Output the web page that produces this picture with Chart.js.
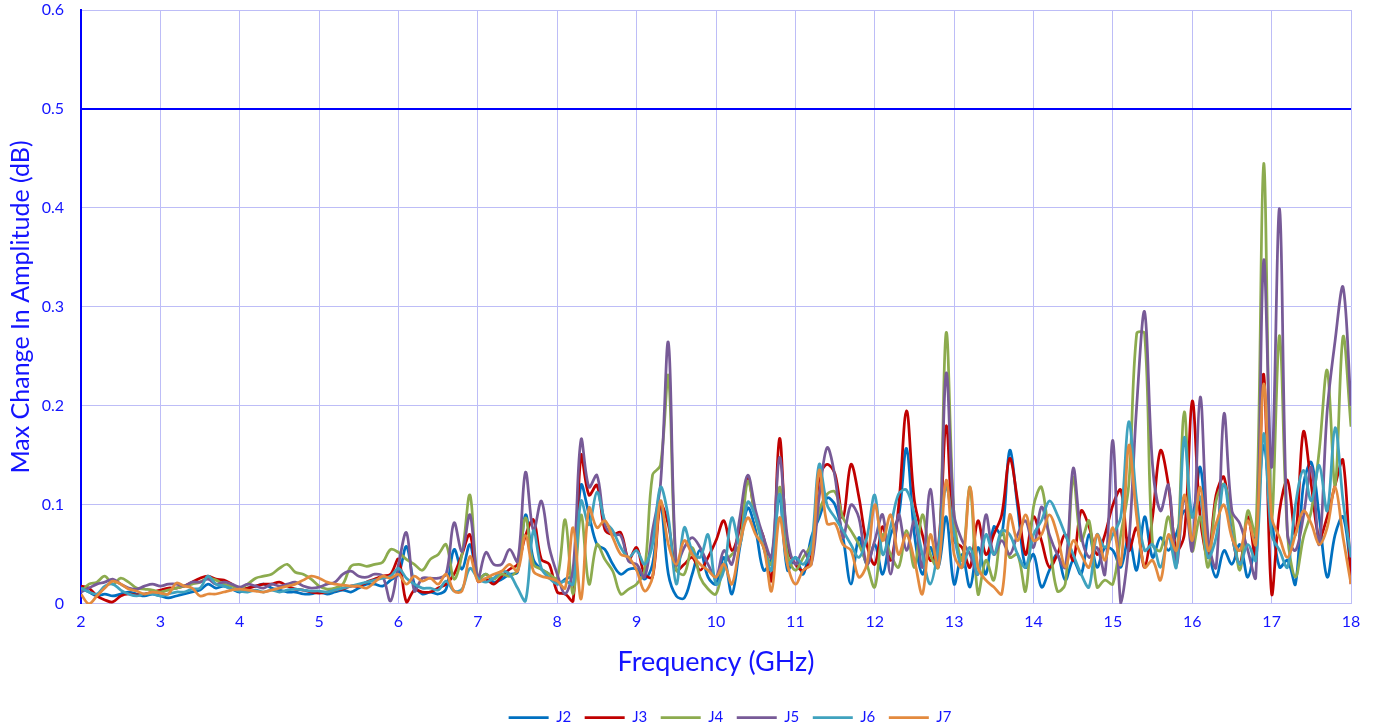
<!DOCTYPE html>
<html>
<head>
<meta charset="utf-8">
<script src="https://cdn.jsdelivr.net/npm/chart.js@4/dist/chart.umd.min.js"></script>
<style>
  body { margin: 0; background: #fff; }
  #wrap { width: 1380px; height: 728px; }
</style>
</head>
<body>
<div id="wrap"><canvas id="line-chart"></canvas></div>
<script>
// frequency grid, GHz (2.0 .. 18.0 step 0.1)
var freq = [];
for (var i = 0; i <= 160; i++) freq.push(+(2 + i / 10).toFixed(1));

var limit = 0.5;
var seriesNames = ["J2", "J3", "J4", "J5", "J6", "J7"];

var j2 = [
  0.016,0.012,0.008,0.01,0.008,0.01,0.012,0.01,0.008,0.01,
  0.008,0.006,0.008,0.01,0.012,0.014,0.02,0.016,0.018,0.015,
  0.012,0.016,0.018,0.02,0.016,0.014,0.012,0.012,0.01,0.01,
  0.012,0.01,0.012,0.014,0.012,0.016,0.02,0.02,0.018,0.024,
  0.03,0.058,0.02,0.01,0.012,0.01,0.015,0.055,0.035,0.06,
  0.025,0.03,0.022,0.025,0.03,0.032,0.09,0.045,0.035,0.03,
  0.02,0.025,0.03,0.12,0.09,0.06,0.055,0.04,0.03,0.035,
  0.035,0.025,0.04,0.1,0.03,0.008,0.006,0.03,0.054,0.027,
  0.02,0.047,0.01,0.057,0.097,0.074,0.034,0.047,0.108,0.034,
  0.047,0.03,0.067,0.087,0.107,0.1,0.067,0.02,0.067,0.04,
  0.06,0.03,0.07,0.088,0.157,0.07,0.03,0.057,0.037,0.088,
  0.02,0.05,0.017,0.057,0.03,0.078,0.07,0.155,0.098,0.037,
  0.05,0.017,0.034,0.05,0.024,0.044,0.03,0.07,0.037,0.057,
  0.054,0.037,0.067,0.034,0.088,0.047,0.067,0.054,0.071,0.094,
  0.088,0.138,0.06,0.027,0.054,0.04,0.06,0.027,0.07,0.16,
  0.088,0.037,0.044,0.02,0.12,0.143,0.088,0.027,0.07,0.088,
  0.034
];
var j3 = [
  0.018,0.016,0.008,0.004,0.002,0.008,0.01,0.009,0.01,0.012,
  0.014,0.016,0.016,0.018,0.022,0.026,0.028,0.025,0.024,0.02,
  0.015,0.016,0.018,0.02,0.02,0.022,0.018,0.015,0.014,0.012,
  0.011,0.012,0.014,0.015,0.018,0.018,0.022,0.025,0.028,0.03,
  0.045,0.002,0.014,0.012,0.012,0.016,0.02,0.03,0.05,0.07,
  0.023,0.025,0.02,0.028,0.035,0.04,0.069,0.085,0.045,0.04,
  0.012,0.01,0.003,0.15,0.11,0.12,0.075,0.07,0.072,0.045,
  0.057,0.03,0.027,0.1,0.08,0.034,0.04,0.047,0.034,0.047,
  0.064,0.084,0.054,0.077,0.128,0.087,0.067,0.024,0.167,0.057,
  0.04,0.034,0.047,0.128,0.141,0.131,0.087,0.141,0.108,0.06,
  0.04,0.078,0.044,0.098,0.195,0.104,0.07,0.044,0.057,0.18,
  0.064,0.057,0.037,0.084,0.05,0.07,0.09,0.147,0.104,0.05,
  0.088,0.064,0.037,0.05,0.07,0.044,0.094,0.078,0.05,0.07,
  0.1,0.115,0.054,0.077,0.037,0.088,0.155,0.12,0.054,0.07,
  0.205,0.088,0.047,0.11,0.128,0.07,0.04,0.088,0.047,0.232,
  0.01,0.094,0.125,0.07,0.174,0.12,0.067,0.088,0.12,0.145,
  0.02
];
var j4 = [
  0.012,0.02,0.022,0.028,0.02,0.026,0.022,0.016,0.015,0.014,
  0.012,0.014,0.016,0.018,0.02,0.022,0.026,0.024,0.02,0.018,
  0.016,0.02,0.026,0.028,0.03,0.036,0.04,0.032,0.03,0.025,
  0.018,0.015,0.016,0.02,0.038,0.04,0.038,0.04,0.042,0.055,
  0.052,0.045,0.04,0.034,0.045,0.05,0.06,0.025,0.05,0.11,
  0.025,0.03,0.025,0.03,0.028,0.035,0.087,0.04,0.035,0.03,
  0.026,0.085,0.01,0.09,0.02,0.06,0.045,0.033,0.01,0.015,
  0.02,0.034,0.13,0.14,0.23,0.035,0.03,0.057,0.027,0.015,
  0.01,0.04,0.05,0.06,0.124,0.087,0.057,0.04,0.118,0.05,
  0.034,0.047,0.06,0.094,0.111,0.113,0.087,0.074,0.06,0.04,
  0.017,0.07,0.05,0.037,0.074,0.037,0.09,0.05,0.037,0.274,
  0.088,0.044,0.118,0.01,0.044,0.024,0.074,0.047,0.05,0.013,
  0.098,0.118,0.064,0.013,0.02,0.128,0.064,0.084,0.017,0.024,
  0.02,0.07,0.12,0.273,0.273,0.06,0.054,0.088,0.047,0.194,
  0.054,0.088,0.037,0.104,0.121,0.088,0.034,0.094,0.07,0.445,
  0.088,0.271,0.07,0.027,0.067,0.094,0.155,0.236,0.12,0.27,
  0.179
];
var j5 = [
  0.012,0.016,0.02,0.022,0.025,0.02,0.016,0.015,0.018,0.02,
  0.018,0.02,0.02,0.018,0.022,0.022,0.025,0.02,0.022,0.02,
  0.017,0.02,0.018,0.016,0.02,0.018,0.02,0.022,0.018,0.016,
  0.017,0.02,0.022,0.03,0.033,0.028,0.027,0.03,0.028,0.003,
  0.04,0.072,0.013,0.026,0.026,0.026,0.03,0.082,0.053,0.09,
  0.026,0.052,0.04,0.04,0.055,0.043,0.133,0.074,0.104,0.057,
  0.03,0.01,0.036,0.166,0.118,0.13,0.08,0.07,0.069,0.043,
  0.04,0.027,0.074,0.12,0.264,0.04,0.057,0.067,0.057,0.04,
  0.027,0.054,0.04,0.087,0.13,0.094,0.067,0.047,0.148,0.067,
  0.04,0.054,0.04,0.108,0.158,0.128,0.067,0.1,0.087,0.04,
  0.064,0.09,0.03,0.09,0.054,0.084,0.037,0.116,0.04,0.233,
  0.09,0.064,0.05,0.03,0.09,0.05,0.064,0.05,0.07,0.084,
  0.057,0.098,0.07,0.05,0.037,0.137,0.07,0.047,0.057,0.03,
  0.165,0.0,0.06,0.2,0.295,0.14,0.094,0.12,0.04,0.108,
  0.054,0.209,0.067,0.037,0.192,0.094,0.081,0.054,0.027,0.347,
  0.138,0.399,0.07,0.054,0.088,0.138,0.06,0.195,0.266,0.32,
  0.2
];
var j6 = [
  0.016,0.012,0.01,0.018,0.02,0.014,0.01,0.008,0.01,0.01,
  0.008,0.01,0.012,0.012,0.015,0.016,0.028,0.02,0.018,0.015,
  0.013,0.012,0.014,0.012,0.014,0.012,0.014,0.015,0.014,0.013,
  0.013,0.012,0.014,0.016,0.018,0.02,0.022,0.024,0.026,0.028,
  0.036,0.026,0.02,0.016,0.016,0.014,0.023,0.013,0.015,0.036,
  0.026,0.022,0.026,0.033,0.03,0.016,0.003,0.074,0.036,0.026,
  0.02,0.023,0.02,0.104,0.08,0.113,0.084,0.074,0.057,0.047,
  0.054,0.04,0.06,0.118,0.087,0.02,0.077,0.054,0.047,0.07,
  0.02,0.034,0.087,0.06,0.103,0.087,0.057,0.034,0.111,0.04,
  0.047,0.04,0.057,0.141,0.1,0.087,0.074,0.06,0.047,0.067,
  0.11,0.05,0.078,0.111,0.115,0.09,0.05,0.02,0.057,0.118,
  0.07,0.037,0.057,0.03,0.07,0.05,0.074,0.07,0.05,0.037,
  0.07,0.084,0.104,0.09,0.07,0.05,0.03,0.017,0.07,0.057,
  0.07,0.088,0.184,0.104,0.054,0.06,0.037,0.067,0.037,0.168,
  0.088,0.108,0.047,0.067,0.121,0.07,0.04,0.06,0.044,0.172,
  0.07,0.054,0.037,0.1,0.135,0.104,0.14,0.094,0.178,0.104,
  0.047
];
var j7 = [
  0.01,0.0,0.008,0.016,0.023,0.02,0.015,0.013,0.01,0.012,
  0.011,0.01,0.021,0.018,0.016,0.008,0.01,0.01,0.012,0.014,
  0.015,0.014,0.013,0.012,0.014,0.016,0.018,0.02,0.024,0.028,
  0.026,0.022,0.02,0.019,0.018,0.018,0.016,0.022,0.028,0.026,
  0.03,0.02,0.028,0.023,0.026,0.02,0.03,0.013,0.013,0.048,
  0.023,0.026,0.03,0.033,0.04,0.033,0.069,0.033,0.028,0.026,
  0.023,0.016,0.077,0.005,0.097,0.077,0.084,0.067,0.05,0.047,
  0.034,0.013,0.027,0.104,0.06,0.04,0.064,0.05,0.04,0.034,
  0.027,0.04,0.02,0.06,0.087,0.07,0.057,0.013,0.087,0.04,
  0.02,0.034,0.04,0.135,0.081,0.081,0.06,0.054,0.027,0.04,
  0.1,0.064,0.09,0.05,0.07,0.044,0.01,0.07,0.037,0.125,
  0.05,0.037,0.118,0.037,0.024,0.017,0.01,0.09,0.064,0.09,
  0.064,0.07,0.09,0.07,0.037,0.064,0.05,0.037,0.07,0.044,
  0.077,0.04,0.16,0.088,0.037,0.044,0.024,0.07,0.054,0.11,
  0.064,0.118,0.054,0.081,0.1,0.067,0.054,0.084,0.06,0.222,
  0.088,0.067,0.047,0.07,0.094,0.081,0.06,0.077,0.118,0.067,
  0.02
];

var seriesValues = [j2, j3, j4, j5, j6, j7];
var seriesColors = ["#0070C0", "#C00000", "#8CAB4E", "#775A97", "#3FA2BE", "#E38A3E"];

var blue = "#1414FF";
var gridColor = "#BDBDF7";
var font = "Lato, 'Open Sans', sans-serif";

function pts(vals) {
  return vals.map(function(v, i) { return { x: freq[i], y: v }; });
}

var datasets = [];
for (var s = 0; s < seriesNames.length; s++) {
  datasets.push({
    label: seriesNames[s],
    data: pts(seriesValues[s]),
    borderColor: seriesColors[s],
    backgroundColor: seriesColors[s],
    borderWidth: 2.75,
    pointRadius: 0,
    tension: 0.35,
    fill: false,
    order: seriesNames.length - s
  });
}
// 0.5 dB limit line
datasets.push({
  label: "limit",
  data: [{ x: freq[0], y: limit }, { x: freq[freq.length - 1], y: limit }],
  borderColor: "#0000FF",
  borderWidth: 2,
  pointRadius: 0,
  fill: false,
  order: 10
});

// nudge the legend a bit right, like the original sheet
var legendShift = {
  id: 'legendShift',
  afterLayout: function(chart) {
    chart.legend.left += 14;
    chart.legend.right += 14;
  }
};

Chart.defaults.font.family = font;

new Chart(document.getElementById("line-chart"), {
  type: 'line',
  data: { datasets: datasets },
  plugins: [legendShift],
  options: {
    responsive: true,
    maintainAspectRatio: false,
    animation: false,
    layout: { padding: { top: 0, right: 29, bottom: -7, left: 0 } },
    plugins: {
      legend: {
        position: 'bottom',
        fullSize: false,
        labels: {
          color: blue,
          font: { size: 15 },
          usePointStyle: true,
          pointStyle: 'line',
          pointStyleWidth: 40,
          padding: 13.5,
          filter: function(item) { return item.text !== "limit"; },
          sort: function(a, b) { return a.datasetIndex - b.datasetIndex; }
        }
      },
      tooltip: { enabled: false }
    },
    scales: {
      x: {
        type: 'linear',
        min: 2,
        max: 18,
        ticks: { stepSize: 1, color: blue, font: { size: 16 }, padding: 8 },
        grid: { color: gridColor, lineWidth: 1, drawTicks: false },
        border: { color: gridColor },
        title: { display: true, text: 'Frequency (GHz)', color: blue, font: { size: 27 }, padding: { top: 7, bottom: 18 } }
      },
      y: {
        min: 0,
        max: 0.6,
        ticks: { stepSize: 0.1, color: blue, font: { size: 16 }, padding: 17 },
        grid: { color: gridColor, lineWidth: 1, drawTicks: false },
        border: { color: "#0000FF", width: 2 },
        title: { display: true, text: 'Max Change In Amplitude (dB)', color: blue, font: { size: 25, lineHeight: 1 }, padding: { top: 8, bottom: 0 } },
        afterFit: function(scale) {
          scale.width = 81;
          scale.paddingTop = 10;
          scale.paddingBottom = 10;
        }
      }
    }
  }
});
</script>
</body>
</html>
